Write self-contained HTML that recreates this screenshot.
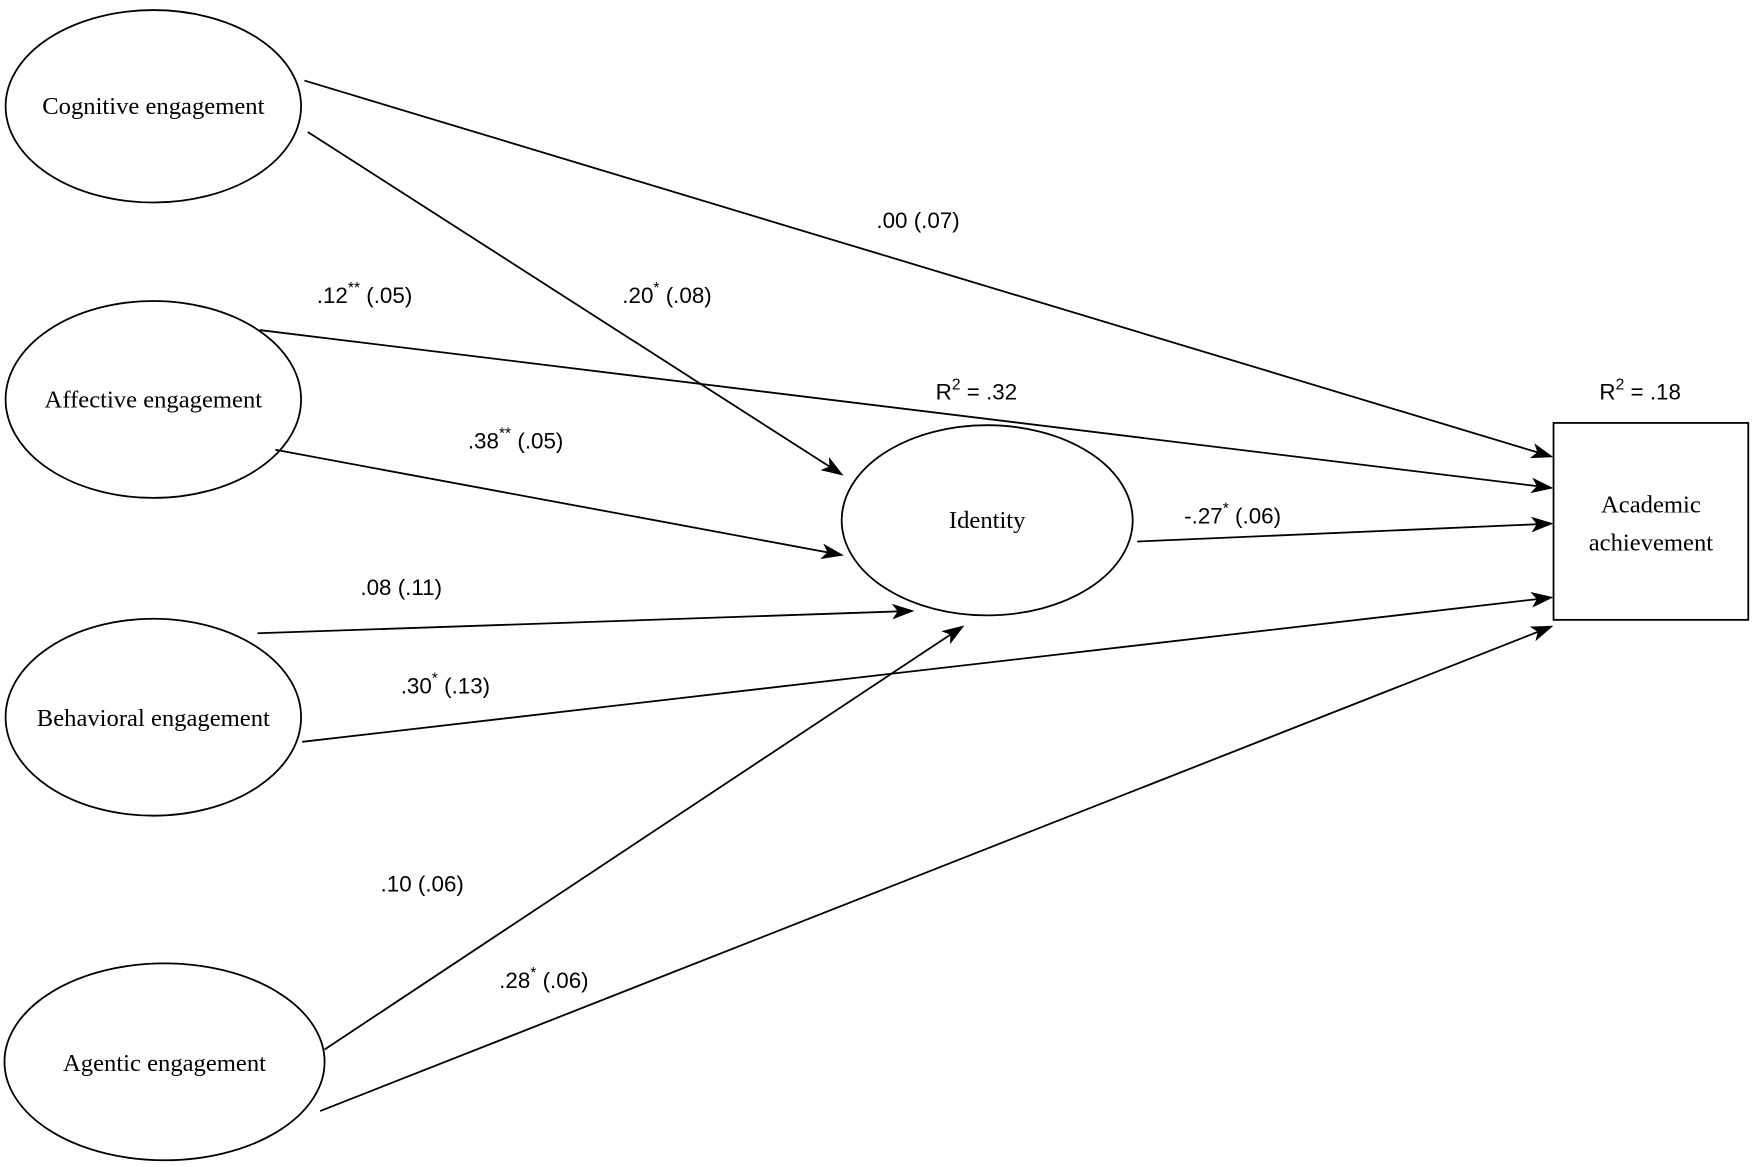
<!DOCTYPE html>
<html><head><style>html,body{margin:0;padding:0;background:#fff;}svg{display:block}</style></head>
<body>
<svg width="1755" height="1167" viewBox="0 0 1568 1043" preserveAspectRatio="none" xmlns="http://www.w3.org/2000/svg">
<defs><marker id="a" markerWidth="20" markerHeight="14" refX="18" refY="7" orient="auto" markerUnits="userSpaceOnUse"><path d="M0,0 L20,7 L0,14 L5,7 z" fill="#000"/></marker></defs>
<g fill="none" stroke="#000" stroke-width="1.6">
<ellipse cx="137" cy="95" rx="132" ry="86"/>
<ellipse cx="137" cy="357" rx="132" ry="88"/>
<ellipse cx="137" cy="641" rx="132" ry="88"/>
<ellipse cx="147" cy="949" rx="143" ry="88"/>
<ellipse cx="882" cy="465" rx="130" ry="85"/>
<rect x="1388" y="378" width="174" height="176"/>
<g marker-end="url(#a)">
<line x1="272" y1="72" x2="1386" y2="408"/>
<line x1="275" y1="118" x2="752" y2="424"/>
<line x1="232" y1="295" x2="1386" y2="436"/>
<line x1="246" y1="402" x2="752" y2="496"/>
<line x1="230" y1="566" x2="815" y2="546"/>
<line x1="270" y1="663" x2="1386" y2="534"/>
<line x1="1016" y1="484" x2="1386" y2="468"/>
<line x1="290" y1="938" x2="860" y2="560"/>
<line x1="286" y1="993" x2="1386" y2="560"/>
</g></g>
<g font-family="Liberation Serif, serif" font-size="22" fill="#000" text-anchor="middle">
<text x="137" y="102">Cognitive engagement</text>
<text x="137" y="364">Affective engagement</text>
<text x="137" y="649">Behavioral engagement</text>
<text x="147" y="957">Agentic engagement</text>
<text x="882" y="472">Identity</text>
<text x="1475" y="458">Academic</text>
<text x="1475" y="492">achievement</text>
</g>
<g font-family="Liberation Sans, sans-serif" font-size="20" fill="#000">
<text x="783" y="204">.00 (.07)</text>
<text x="283" y="271">.12<tspan dy="-9" font-size="14">**</tspan><tspan dy="9"> (.05)</tspan></text>
<text x="556" y="271">.20<tspan dy="-9" font-size="14">*</tspan><tspan dy="9"> (.08)</tspan></text>
<text x="836" y="357">R<tspan dy="-9" font-size="14">2</tspan><tspan dy="9"> = .32</tspan></text>
<text x="1429" y="357">R<tspan dy="-9" font-size="14">2</tspan><tspan dy="9"> = .18</tspan></text>
<text x="418" y="401">.38<tspan dy="-9" font-size="14">**</tspan><tspan dy="9"> (.05)</tspan></text>
<text x="1058" y="468">-.27<tspan dy="-9" font-size="14">*</tspan><tspan dy="9"> (.06)</tspan></text>
<text x="322" y="532">.08 (.11)</text>
<text x="358" y="620">.30<tspan dy="-9" font-size="14">*</tspan><tspan dy="9"> (.13)</tspan></text>
<text x="340" y="797">.10 (.06)</text>
<text x="446" y="883">.28<tspan dy="-9" font-size="14">*</tspan><tspan dy="9"> (.06)</tspan></text>
</g>
</svg>
</body></html>
